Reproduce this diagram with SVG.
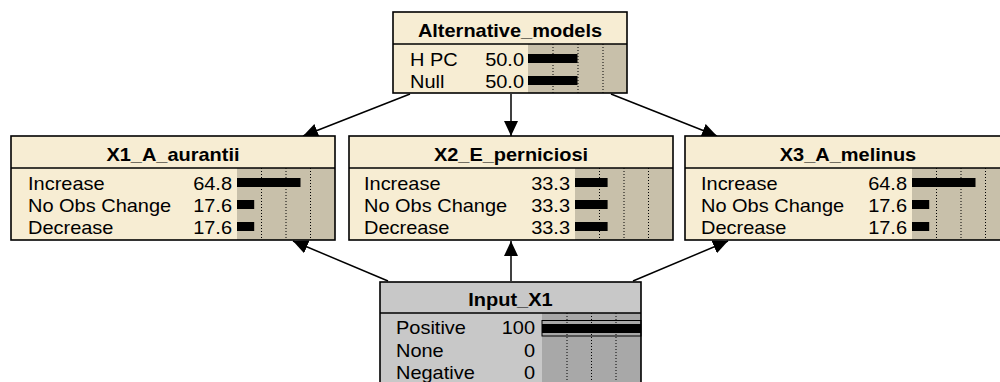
<svg xmlns="http://www.w3.org/2000/svg" width="1000" height="382" viewBox="0 0 1000 382">
<style>
text{font-family:"Liberation Sans",Arial,sans-serif;font-size:18px;fill:#000;transform-box:fill-box}
.t{font-weight:bold;text-anchor:middle;transform-origin:center;transform:scaleX(1.11)}
.l{transform-origin:left;transform:scaleX(1.11)}
.v{text-anchor:end;transform-origin:right;transform:scaleX(1.11)}
.box{stroke:#000;stroke-width:1.6}
.cream{fill:#f7edd3}
.tan{fill:#c8c0aa}
.grey{fill:#c8c8c8}
.dgrey{fill:#a8a8a8}
.sep{stroke:#000;stroke-width:1.4}
.dot{stroke:#000;stroke-width:1;stroke-dasharray:1 2}
.bar{fill:#000}
.edge{stroke:#000;stroke-width:1.5;fill:none;marker-end:url(#ah)}
</style>
<defs>
<marker id="ah" markerUnits="userSpaceOnUse" markerWidth="16" markerHeight="14" refX="15" refY="7" orient="auto">
<path d="M0,0 L15,7 L0,14 Z" fill="#000"/>
</marker>
</defs>
<rect width="1000" height="382" fill="#ffffff"/>

<g id="connectors">
<line class="edge" x1="410" y1="94" x2="303" y2="136"/>
<line class="edge" x1="511" y1="94" x2="511" y2="136"/>
<line class="edge" x1="611" y1="94" x2="717" y2="136"/>
<line class="edge" x1="388" y1="281" x2="293" y2="241"/>
<line class="edge" x1="511" y1="281" x2="511" y2="241"/>
<line class="edge" x1="633" y1="281" x2="728" y2="241"/>
</g>

<g id="Alternative_models">
<rect class="cream" x="393" y="12" width="234" height="81"/>
<rect class="tan" x="528" y="44" width="99" height="49"/>
<line class="dot" x1="553" y1="44" x2="553" y2="93"/>
<line class="dot" x1="578" y1="44" x2="578" y2="93"/>
<line class="dot" x1="603" y1="44" x2="603" y2="93"/>
<rect class="bar" x="528" y="54" width="49.5" height="9"/>
<rect class="bar" x="528" y="76" width="49.5" height="9"/>
<line class="sep" x1="393" y1="44" x2="627" y2="44"/>
<rect class="box" x="393" y="12" width="234" height="81" fill="none"/>
<text class="t" x="510" y="37">Alternative_models</text>
<text class="l" x="410" y="66">H PC</text>
<text class="v" x="524" y="66">50.0</text>
<text class="l" x="410" y="88">Null</text>
<text class="v" x="524" y="88">50.0</text>
</g>

<g id="X1_A_aurantii">
<rect class="cream" x="11" y="136" width="324" height="104"/>
<rect class="tan" x="237" y="168" width="98" height="72"/>
<line class="dot" x1="261.5" y1="168" x2="261.5" y2="240"/>
<line class="dot" x1="286" y1="168" x2="286" y2="240"/>
<line class="dot" x1="310.5" y1="168" x2="310.5" y2="240"/>
<rect class="bar" x="237" y="178" width="63.5" height="9"/>
<rect class="bar" x="237" y="200" width="17.2" height="9"/>
<rect class="bar" x="237" y="222" width="17.2" height="9"/>
<line class="sep" x1="11" y1="168" x2="335" y2="168"/>
<rect class="box" x="11" y="136" width="324" height="104" fill="none"/>
<text class="t" x="173" y="161">X1_A_aurantii</text>
<text class="l" x="28" y="190">Increase</text>
<text class="v" x="232" y="190">64.8</text>
<text class="l" x="28" y="212">No Obs Change</text>
<text class="v" x="232" y="212">17.6</text>
<text class="l" x="28" y="234">Decrease</text>
<text class="v" x="232" y="234">17.6</text>
</g>

<g id="X2_E_perniciosi">
<rect class="cream" x="349" y="136" width="324" height="104"/>
<rect class="tan" x="575" y="168" width="98" height="72"/>
<line class="dot" x1="599.5" y1="168" x2="599.5" y2="240"/>
<line class="dot" x1="624" y1="168" x2="624" y2="240"/>
<line class="dot" x1="648.5" y1="168" x2="648.5" y2="240"/>
<rect class="bar" x="575" y="178" width="32.6" height="9"/>
<rect class="bar" x="575" y="200" width="32.6" height="9"/>
<rect class="bar" x="575" y="222" width="32.6" height="9"/>
<line class="sep" x1="349" y1="168" x2="673" y2="168"/>
<rect class="box" x="349" y="136" width="324" height="104" fill="none"/>
<text class="t" x="511" y="161">X2_E_perniciosi</text>
<text class="l" x="364" y="190">Increase</text>
<text class="v" x="570" y="190">33.3</text>
<text class="l" x="364" y="212">No Obs Change</text>
<text class="v" x="570" y="212">33.3</text>
<text class="l" x="364" y="234">Decrease</text>
<text class="v" x="570" y="234">33.3</text>
</g>

<g id="X3_A_melinus">
<rect class="cream" x="685" y="136" width="325" height="104"/>
<rect class="tan" x="912" y="168" width="98" height="72"/>
<line class="dot" x1="936.5" y1="168" x2="936.5" y2="240"/>
<line class="dot" x1="961" y1="168" x2="961" y2="240"/>
<line class="dot" x1="985.5" y1="168" x2="985.5" y2="240"/>
<rect class="bar" x="912" y="178" width="63.5" height="9"/>
<rect class="bar" x="912" y="200" width="17.2" height="9"/>
<rect class="bar" x="912" y="222" width="17.2" height="9"/>
<line class="sep" x1="685" y1="168" x2="1010" y2="168"/>
<rect class="box" x="685" y="136" width="325" height="104" fill="none"/>
<text class="t" x="848" y="161">X3_A_melinus</text>
<text class="l" x="701" y="190">Increase</text>
<text class="v" x="907" y="190">64.8</text>
<text class="l" x="701" y="212">No Obs Change</text>
<text class="v" x="907" y="212">17.6</text>
<text class="l" x="701" y="234">Decrease</text>
<text class="v" x="907" y="234">17.6</text>
</g>

<g id="Input_X1">
<rect class="grey" x="380" y="282" width="261" height="110"/>
<rect class="dgrey" x="542" y="313" width="99" height="79"/>
<line class="dot" x1="567" y1="313" x2="567" y2="392"/>
<line class="dot" x1="591.5" y1="313" x2="591.5" y2="392"/>
<line class="dot" x1="616" y1="313" x2="616" y2="392"/>
<rect x="542" y="320.5" width="99" height="15.5" fill="none" stroke="#000" stroke-width="1"/>
<rect class="bar" x="542" y="324" width="99" height="9"/>
<line class="sep" x1="380" y1="313" x2="641" y2="313"/>
<rect class="box" x="380" y="282" width="261" height="110" fill="none"/>
<text class="t" x="510.5" y="306">Input_X1</text>
<text class="l" x="396" y="334">Positive</text>
<text class="v" x="535" y="334">100</text>
<text class="l" x="396" y="357">None</text>
<text class="v" x="535" y="357">0</text>
<text class="l" x="396" y="379">Negative</text>
<text class="v" x="535" y="379">0</text>
</g>
</svg>
